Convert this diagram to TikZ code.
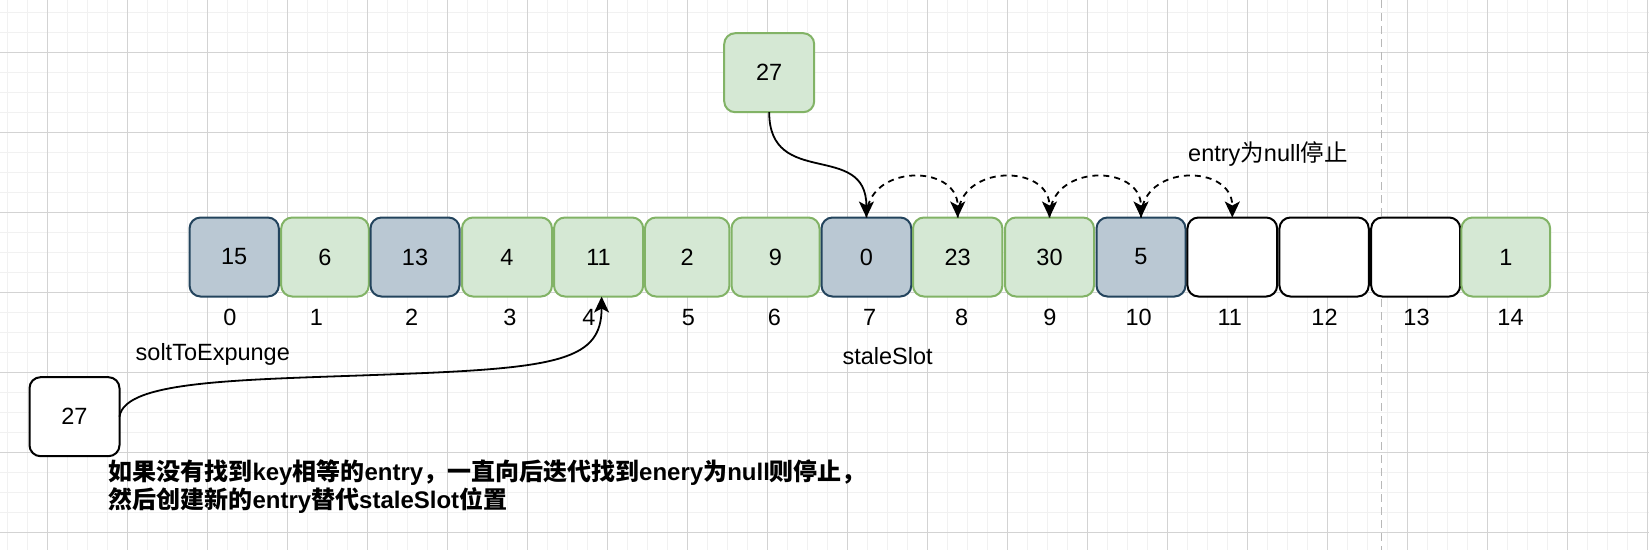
\documentclass[tikz,border=0pt]{standalone}
\usepackage{fontspec}
\setmainfont{Liberation Sans}
\newfontfamily\cjk{Noto Sans CJK SC}
\usetikzlibrary{arrows.meta}
\definecolor{bfillc}{HTML}{BAC8D3}
\definecolor{bdrawc}{HTML}{23445D}
\definecolor{gfillc}{HTML}{D5E8D4}
\definecolor{gdrawc}{HTML}{82B366}
\definecolor{gridmaj}{HTML}{D3D3D3}
\definecolor{gridmin}{HTML}{F1F1F1}
\definecolor{vlinec}{HTML}{B8B8B8}
\begin{document}
\begin{tikzpicture}[x=1pt,y=-1pt,
  every node/.style={font=\fontsize{23.5}{28}\selectfont, text=black},
  slot/.style={draw, line width=2pt, rounded corners=11pt, minimum height=79pt, inner sep=0pt, outer sep=0pt},
  bslot/.style={slot, fill=bfillc, draw=bdrawc},
  gslot/.style={slot, fill=gfillc, draw=gdrawc},
  wslot/.style={slot, fill=white, draw=black},
  idx/.style={anchor=base, inner sep=0pt},
  lbl/.style={anchor=base west, inner sep=0pt},
  boldlbl/.style={lbl, font=\fontsize{24}{28}\selectfont\bfseries},
  conn/.style={line width=1.8pt, -{Stealth[length=16pt,width=15pt,inset=4pt]}},
  dconn/.style={conn, dash pattern=on 6pt off 5pt},
  minorgrid/.style={draw=gridmin, line width=1pt},
  majorgrid/.style={draw=gridmaj, line width=1pt},
  vline/.style={draw=vlinec, line width=1.5pt, dash pattern=on 8pt off 5pt}
]
\useasboundingbox (0,0) rectangle (1649,550);
\fill[white] (0,0) rectangle (1649,550);
% grid
\foreach \x in {7.4,27.4,...,1648} \draw[minorgrid] (\x,0) -- (\x,550);
\foreach \y in {12,32,...,550} \draw[minorgrid] (0,\y) -- (1649,\y);
\foreach \x in {47.4,127.4,...,1648} \draw[majorgrid] (\x,0) -- (\x,550);
\foreach \y in {52,132,...,550} \draw[majorgrid] (0,\y) -- (1649,\y);
% dashed vertical guide
\coordinate (vtop) at (1381.7,0);
\coordinate (vbot) at (1381.7,550);
\draw[vline] (vtop) -- (vbot);
% slots
\node[bslot, minimum width=89.3pt] (s0) at (234.2,257) {15};
\node[gslot, minimum width=87.6pt] (s1) at (325,257) {6};
\node[bslot, minimum width=89pt] (s2) at (415,257) {13};
\node[gslot, minimum width=90pt] (s3) at (507,257) {4};
\node[gslot, minimum width=89.2pt] (s4) at (598.6,257) {11};
\node[gslot, minimum width=84.5pt] (s5) at (687.2,257) {2};
\node[gslot, minimum width=88pt] (s6) at (775.5,257) {9};
\node[bslot, minimum width=89.8pt] (s7) at (866.4,257) {0};
\node[gslot, minimum width=89.4pt] (s8) at (957.7,257) {23};
\node[gslot, minimum width=89pt] (s9) at (1049.5,257) {30};
\node[bslot, minimum width=89pt] (s10) at (1141,257) {5};
\node[wslot, minimum width=89.7pt] (s11) at (1232.3,257) {};
\node[wslot, minimum width=89.3pt] (s12) at (1324.1,257) {};
\node[wslot, minimum width=89pt] (s13) at (1415.7,257) {};
\node[gslot, minimum width=88.7pt] (s14) at (1505.8,257) {1};
% index labels
\node[idx] (i0) at (230,325) {0};
\node[idx] (i1) at (316.3,325) {1};
\node[idx] (i2) at (411.7,325) {2};
\node[idx] (i3) at (509.8,325) {3};
\node[idx] (i4) at (589,325) {4};
\node[idx] (i5) at (688.4,325) {5};
\node[idx] (i6) at (774.5,325) {6};
\node[idx] (i7) at (869.7,325) {7};
\node[idx] (i8) at (961.6,325) {8};
\node[idx] (i9) at (1049.9,325) {9};
\node[idx] (i10) at (1138.7,325) {10};
\node[idx] (i11) at (1229.8,325) {11};
\node[idx] (i12) at (1324.5,325) {12};
\node[idx] (i13) at (1416.5,325) {13};
\node[idx] (i14) at (1510.5,325) {14};
% the two 27 boxes
\node[gslot, minimum width=90pt] (t27) at (769.2,72.7) {27};
\node[wslot, minimum width=90pt] (b27) at (74.5,416.7) {27};
% labels
\node[lbl] (stop) at (1188,161) {entry{\cjk 为}null{\cjk 停止}};
\node[lbl] (stale) at (842.4,364.5) {staleSlot};
\node[lbl] (expunge) at (135.5,360.7) {soltToExpunge};
\node[boldlbl] (note1) at (108.3,480) {{\cjk 如果没有找到}key{\cjk 相等的}entry{\cjk ，一直向后迭代找到}enery{\cjk 为}null{\cjk 则停止，}};
\node[boldlbl] (note2) at (108.3,508.3) {{\cjk 然后创建新的}entry{\cjk 替代}staleSlot{\cjk 位置}};
% connectors
\draw[conn] (t27.south) .. controls +(0,77) and +(0,-77) .. (s7.north);
\draw[dconn] (s7.north) .. controls +(0,-54) and +(0,-54) .. (s8.north);
\draw[dconn] (s8.north) .. controls +(0,-54) and +(0,-54) .. (s9.north);
\draw[dconn] (s9.north) .. controls +(0,-54) and +(0,-54) .. (s10.north);
\draw[dconn] (s10.north) .. controls +(0,-54) and +(0,-54) .. (s11.north);
\coordinate (mid) at (400,374);
\draw[conn] (b27.east) .. controls +(5,-38) and (250,380) .. (mid) .. controls (560,368) and +(0,63) .. ([xshift=3pt]s4.south);
\end{tikzpicture}
\end{document}
